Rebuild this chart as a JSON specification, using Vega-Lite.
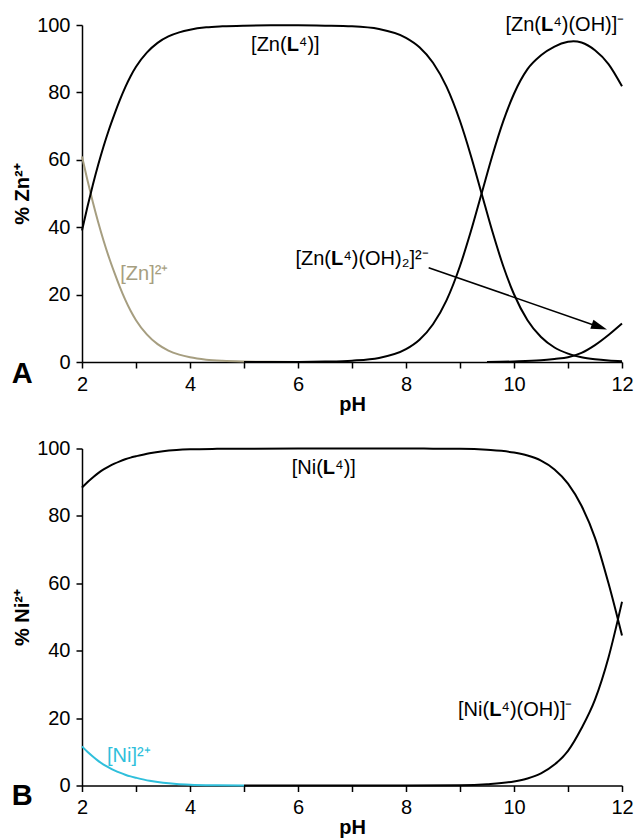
{
  "$schema": "https://vega.github.io/schema/vega-lite/v6.json",
  "padding": {"left": 11, "top": 15, "right": 4, "bottom": 0},
  "background": "white",
  "bounds": "flush",
  "spacing": 86.5,
  "config": {
    "view": {"stroke": null},
    "font": "Liberation Sans",
    "axis": {
      "domainColor": "#000", "domainWidth": 1.5, "tickColor": "#000", "tickWidth": 1.5,
      "tickSize": 6, "labelColor": "#000", "titleColor": "#000",
      "labelFont": "Liberation Sans", "titleFont": "Liberation Sans",
      "labelFontSize": 20, "titleFontSize": 20, "titleFontWeight": "bold",
      "grid": false, "zindex": 1, "labelFlush": false, "labelOverlap": false
    },
    "text": {"font": "Liberation Sans", "fontSize": 20}
  },
  "datasets": {
    "curves": [
      {"panel":"A","species":"Zn","pH":2.0,"pct":61},{"panel":"A","species":"Zn","pH":2.1,"pct":54},{"panel":"A","species":"Zn","pH":2.2,"pct":47.5},{"panel":"A","species":"Zn","pH":2.3,"pct":41.5},{"panel":"A","species":"Zn","pH":2.4,"pct":36},{"panel":"A","species":"Zn","pH":2.5,"pct":31},{"panel":"A","species":"Zn","pH":2.6,"pct":26.5},{"panel":"A","species":"Zn","pH":2.7,"pct":22.3},{"panel":"A","species":"Zn","pH":2.8,"pct":18.5},{"panel":"A","species":"Zn","pH":2.9,"pct":15.2},{"panel":"A","species":"Zn","pH":3.0,"pct":12.4},{"panel":"A","species":"Zn","pH":3.2,"pct":8.2},{"panel":"A","species":"Zn","pH":3.4,"pct":5.3},{"panel":"A","species":"Zn","pH":3.6,"pct":3.4},{"panel":"A","species":"Zn","pH":3.8,"pct":2.2},{"panel":"A","species":"Zn","pH":4.0,"pct":1.4},{"panel":"A","species":"Zn","pH":4.3,"pct":0.7},{"panel":"A","species":"Zn","pH":4.6,"pct":0.35},{"panel":"A","species":"Zn","pH":5.0,"pct":0.14},{"panel":"A","species":"Zn","pH":5.5,"pct":0.05},{"panel":"A","species":"Zn","pH":6.0,"pct":0.02},
      {"panel":"A","species":"ZnL","pH":2.0,"pct":39},{"panel":"A","species":"ZnL","pH":2.1,"pct":46},{"panel":"A","species":"ZnL","pH":2.2,"pct":52.5},{"panel":"A","species":"ZnL","pH":2.3,"pct":58.5},{"panel":"A","species":"ZnL","pH":2.4,"pct":64},{"panel":"A","species":"ZnL","pH":2.5,"pct":69},{"panel":"A","species":"ZnL","pH":2.6,"pct":73.5},{"panel":"A","species":"ZnL","pH":2.7,"pct":77.7},{"panel":"A","species":"ZnL","pH":2.8,"pct":81.5},{"panel":"A","species":"ZnL","pH":2.9,"pct":84.8},{"panel":"A","species":"ZnL","pH":3.0,"pct":87.6},{"panel":"A","species":"ZnL","pH":3.2,"pct":91.8},{"panel":"A","species":"ZnL","pH":3.4,"pct":94.7},{"panel":"A","species":"ZnL","pH":3.6,"pct":96.6},{"panel":"A","species":"ZnL","pH":3.8,"pct":97.8},{"panel":"A","species":"ZnL","pH":4.0,"pct":98.6},{"panel":"A","species":"ZnL","pH":4.3,"pct":99.3},{"panel":"A","species":"ZnL","pH":4.6,"pct":99.6},{"panel":"A","species":"ZnL","pH":5.0,"pct":99.8},{"panel":"A","species":"ZnL","pH":5.5,"pct":99.9},{"panel":"A","species":"ZnL","pH":6.0,"pct":99.9},{"panel":"A","species":"ZnL","pH":6.5,"pct":99.8},{"panel":"A","species":"ZnL","pH":7.0,"pct":99.6},{"panel":"A","species":"ZnL","pH":7.5,"pct":98.8},{"panel":"A","species":"ZnL","pH":8.0,"pct":96.2},{"panel":"A","species":"ZnL","pH":8.25,"pct":93.4},{"panel":"A","species":"ZnL","pH":8.5,"pct":88.8},{"panel":"A","species":"ZnL","pH":8.75,"pct":81.7},{"panel":"A","species":"ZnL","pH":9.0,"pct":71.5},{"panel":"A","species":"ZnL","pH":9.2,"pct":61.3},{"panel":"A","species":"ZnL","pH":9.4,"pct":50},{"panel":"A","species":"ZnL","pH":9.6,"pct":38.7},{"panel":"A","species":"ZnL","pH":9.8,"pct":28.5},{"panel":"A","species":"ZnL","pH":10.0,"pct":20.1},{"panel":"A","species":"ZnL","pH":10.25,"pct":12.4},{"panel":"A","species":"ZnL","pH":10.5,"pct":7.4},{"panel":"A","species":"ZnL","pH":10.75,"pct":4.3},{"panel":"A","species":"ZnL","pH":11.0,"pct":2.5},{"panel":"A","species":"ZnL","pH":11.25,"pct":1.4},{"panel":"A","species":"ZnL","pH":11.5,"pct":0.8},{"panel":"A","species":"ZnL","pH":11.75,"pct":0.45},{"panel":"A","species":"ZnL","pH":12.0,"pct":0.25},
      {"panel":"A","species":"ZnLOH","pH":5.0,"pct":0},{"panel":"A","species":"ZnLOH","pH":6.0,"pct":0.02},{"panel":"A","species":"ZnLOH","pH":6.5,"pct":0.12},{"panel":"A","species":"ZnLOH","pH":7.0,"pct":0.4},{"panel":"A","species":"ZnLOH","pH":7.5,"pct":1.2},{"panel":"A","species":"ZnLOH","pH":8.0,"pct":3.8},{"panel":"A","species":"ZnLOH","pH":8.25,"pct":6.6},{"panel":"A","species":"ZnLOH","pH":8.5,"pct":11.2},{"panel":"A","species":"ZnLOH","pH":8.75,"pct":18.3},{"panel":"A","species":"ZnLOH","pH":9.0,"pct":28.5},{"panel":"A","species":"ZnLOH","pH":9.2,"pct":38.7},{"panel":"A","species":"ZnLOH","pH":9.4,"pct":50},{"panel":"A","species":"ZnLOH","pH":9.6,"pct":61.3},{"panel":"A","species":"ZnLOH","pH":9.8,"pct":71.4},{"panel":"A","species":"ZnLOH","pH":10.0,"pct":79.6},{"panel":"A","species":"ZnLOH","pH":10.25,"pct":86.9},{"panel":"A","species":"ZnLOH","pH":10.5,"pct":91.0},{"panel":"A","species":"ZnLOH","pH":10.75,"pct":93.6},{"panel":"A","species":"ZnLOH","pH":11.0,"pct":95.0},{"panel":"A","species":"ZnLOH","pH":11.1,"pct":95.2},{"panel":"A","species":"ZnLOH","pH":11.25,"pct":94.8},{"panel":"A","species":"ZnLOH","pH":11.5,"pct":92.5},{"panel":"A","species":"ZnLOH","pH":11.75,"pct":88.4},{"panel":"A","species":"ZnLOH","pH":12.0,"pct":81.8},
      {"panel":"A","species":"ZnLOH2","pH":9.5,"pct":0},{"panel":"A","species":"ZnLOH2","pH":10.0,"pct":0.15},{"panel":"A","species":"ZnLOH2","pH":10.5,"pct":0.5},{"panel":"A","species":"ZnLOH2","pH":10.75,"pct":0.9},{"panel":"A","species":"ZnLOH2","pH":11.0,"pct":1.4},{"panel":"A","species":"ZnLOH2","pH":11.25,"pct":2.7},{"panel":"A","species":"ZnLOH2","pH":11.5,"pct":5.0},{"panel":"A","species":"ZnLOH2","pH":11.75,"pct":8.0},{"panel":"A","species":"ZnLOH2","pH":12.0,"pct":11.4},
      {"panel":"B","species":"Ni","pH":2.0,"pct":11.6},{"panel":"B","species":"Ni","pH":2.1,"pct":10.0},{"panel":"B","species":"Ni","pH":2.2,"pct":8.6},{"panel":"B","species":"Ni","pH":2.3,"pct":7.3},{"panel":"B","species":"Ni","pH":2.4,"pct":6.2},{"panel":"B","species":"Ni","pH":2.5,"pct":5.3},{"panel":"B","species":"Ni","pH":2.6,"pct":4.5},{"panel":"B","species":"Ni","pH":2.7,"pct":3.8},{"panel":"B","species":"Ni","pH":2.8,"pct":3.2},{"panel":"B","species":"Ni","pH":2.9,"pct":2.7},{"panel":"B","species":"Ni","pH":3.0,"pct":2.3},{"panel":"B","species":"Ni","pH":3.25,"pct":1.4},{"panel":"B","species":"Ni","pH":3.5,"pct":0.8},{"panel":"B","species":"Ni","pH":3.75,"pct":0.45},{"panel":"B","species":"Ni","pH":4.0,"pct":0.25},{"panel":"B","species":"Ni","pH":4.5,"pct":0.08},{"panel":"B","species":"Ni","pH":5.0,"pct":0.02},
      {"panel":"B","species":"NiL","pH":2.0,"pct":88.4},{"panel":"B","species":"NiL","pH":2.1,"pct":90.0},{"panel":"B","species":"NiL","pH":2.2,"pct":91.4},{"panel":"B","species":"NiL","pH":2.3,"pct":92.7},{"panel":"B","species":"NiL","pH":2.4,"pct":93.8},{"panel":"B","species":"NiL","pH":2.5,"pct":94.7},{"panel":"B","species":"NiL","pH":2.6,"pct":95.5},{"panel":"B","species":"NiL","pH":2.7,"pct":96.2},{"panel":"B","species":"NiL","pH":2.8,"pct":96.8},{"panel":"B","species":"NiL","pH":2.9,"pct":97.3},{"panel":"B","species":"NiL","pH":3.0,"pct":97.7},{"panel":"B","species":"NiL","pH":3.25,"pct":98.6},{"panel":"B","species":"NiL","pH":3.5,"pct":99.2},{"panel":"B","species":"NiL","pH":3.75,"pct":99.55},{"panel":"B","species":"NiL","pH":4.0,"pct":99.75},{"panel":"B","species":"NiL","pH":4.5,"pct":99.9},{"panel":"B","species":"NiL","pH":5.0,"pct":99.95},{"panel":"B","species":"NiL","pH":6.0,"pct":100},{"panel":"B","species":"NiL","pH":7.0,"pct":100},{"panel":"B","species":"NiL","pH":8.0,"pct":100},{"panel":"B","species":"NiL","pH":8.5,"pct":99.95},{"panel":"B","species":"NiL","pH":9.0,"pct":99.9},{"panel":"B","species":"NiL","pH":9.5,"pct":99.6},{"panel":"B","species":"NiL","pH":10.0,"pct":98.8},{"panel":"B","species":"NiL","pH":10.25,"pct":97.9},{"panel":"B","species":"NiL","pH":10.5,"pct":96.4},{"panel":"B","species":"NiL","pH":10.75,"pct":93.8},{"panel":"B","species":"NiL","pH":11.0,"pct":89.6},{"panel":"B","species":"NiL","pH":11.25,"pct":83},{"panel":"B","species":"NiL","pH":11.5,"pct":73.5},{"panel":"B","species":"NiL","pH":11.75,"pct":60},{"panel":"B","species":"NiL","pH":12.0,"pct":44.5},
      {"panel":"B","species":"NiLOH","pH":5.0,"pct":0},{"panel":"B","species":"NiLOH","pH":8.0,"pct":0.01},{"panel":"B","species":"NiLOH","pH":9.0,"pct":0.1},{"panel":"B","species":"NiLOH","pH":9.5,"pct":0.4},{"panel":"B","species":"NiLOH","pH":10.0,"pct":1.2},{"panel":"B","species":"NiLOH","pH":10.25,"pct":2.1},{"panel":"B","species":"NiLOH","pH":10.5,"pct":3.6},{"panel":"B","species":"NiLOH","pH":10.75,"pct":6.2},{"panel":"B","species":"NiLOH","pH":11.0,"pct":10.3},{"panel":"B","species":"NiLOH","pH":11.25,"pct":17},{"panel":"B","species":"NiLOH","pH":11.5,"pct":25.5},{"panel":"B","species":"NiLOH","pH":11.75,"pct":38},{"panel":"B","species":"NiLOH","pH":12.0,"pct":54.5}
    ],
    "labels": [
      {"panel":"A","species":"ZnL","pH":5.79,"pct":92.2,"pre":"[Zn(","b":"L","post":"⁴)]"},
      {"panel":"A","species":"ZnLOH","pH":10.5,"pct":98.1,"pre":"[Zn(","b":"L","post":"⁴)(OH)]⁻"},
      {"panel":"A","species":"ZnLOH2","pH":6.61,"pct":28.9,"pre":"[Zn(","b":"L","post":"⁴)(OH)₂]²⁻"},
      {"panel":"A","species":"Zn","pH":2.483,"pct":24.2,"pre":"","b":"","post":"[Zn]²⁺"},
      {"panel":"B","species":"NiL","pH":6.46,"pct":92.3,"pre":"[Ni(","b":"L","post":"⁴)]"},
      {"panel":"B","species":"NiLOH","pH":9.54,"pct":20.5,"pre":"[Ni(","b":"L","post":"⁴)(OH)]⁻"},
      {"panel":"B","species":"Ni","pH":2.237,"pct":7.1,"pre":"","b":"","post":"[Ni]²⁺"}
    ],
    "letters": [
      {"panel":"A","pH":0.7,"pct":-6.1,"t":"A"},
      {"panel":"B","pH":0.7,"pct":-5.7,"t":"B"}
    ]
  },
  "vconcat": [
    {
      "width": 540, "height": 337,
      "layer": [
        {
          "data": {"name": "curves"},
          "transform": [{"filter": "datum.panel === 'A'"}],
          "mark": {"type": "line", "strokeWidth": 2, "interpolate": "monotone"},
          "encoding": {
            "x": {"field": "pH", "type": "quantitative", "scale": {"domain": [2, 12], "nice": false, "zero": false},
                  "axis": {"title": "pH", "values": [2,3,4,5,6,7,8,9,10,11,12], "labelExpr": "datum.value % 2 === 0 ? datum.label : ''", "labelPadding": 6, "titlePadding": 0}},
            "y": {"field": "pct", "type": "quantitative", "scale": {"domain": [0, 100], "nice": false},
                  "axis": {"title": "% Zn²⁺", "values": [0,10,20,30,40,50,60,70,80,90,100], "labelExpr": "datum.value % 20 === 0 ? datum.label : ''", "labelPadding": 6, "titlePadding": 4}},
            "color": {"field": "species", "type": "nominal", "legend": null,
                      "scale": {"domain": ["Zn","ZnL","ZnLOH","ZnLOH2","Ni","NiL","NiLOH"], "range": ["#a69e80","#000000","#000000","#000000","#2fbfdb","#000000","#000000"]}}
          }
        },
        {
          "data": {"values": [{"pH": 8.42, "pct": 27.95, "pH2": 11.58, "pct2": 10.42}]},
          "mark": {"type": "rule", "strokeWidth": 1.6, "color": "#000"},
          "encoding": {"x": {"field": "pH", "type": "quantitative"}, "y": {"field": "pct", "type": "quantitative"}, "x2": {"field": "pH2"}, "y2": {"field": "pct2"}}
        },
        {
          "data": {"values": [{"pH": 11.722, "pct": 9.64}]},
          "mark": {"type": "point", "shape": "M0,0L-1,-0.3L-1,0.3Z", "size": 1024, "angle": 19.1, "filled": true, "color": "#000", "opacity": 1},
          "encoding": {"x": {"field": "pH", "type": "quantitative"}, "y": {"field": "pct", "type": "quantitative"}}
        },
        {
          "data": {"name": "labels"},
          "transform": [{"filter": "datum.panel === 'A'"}],
          "mark": {"type": "text", "align": "right", "baseline": "alphabetic", "fontSize": 20},
          "encoding": {"x": {"field": "pH", "type": "quantitative"}, "y": {"field": "pct", "type": "quantitative"}, "text": {"field": "pre"}, "color": {"field": "species", "type": "nominal", "legend": null}}
        },
        {
          "data": {"name": "labels"},
          "transform": [{"filter": "datum.panel === 'A'"}],
          "mark": {"type": "text", "align": "left", "baseline": "alphabetic", "fontSize": 20, "fontWeight": "bold"},
          "encoding": {"x": {"field": "pH", "type": "quantitative"}, "y": {"field": "pct", "type": "quantitative"}, "text": {"field": "b"}, "color": {"field": "species", "type": "nominal", "legend": null}}
        },
        {
          "data": {"name": "labels"},
          "transform": [{"filter": "datum.panel === 'A'"}],
          "mark": {"type": "text", "align": "left", "baseline": "alphabetic", "fontSize": 20, "dx": 12.2},
          "encoding": {"x": {"field": "pH", "type": "quantitative"}, "y": {"field": "pct", "type": "quantitative"}, "text": {"field": "post"}, "color": {"field": "species", "type": "nominal", "legend": null}}
        },
        {
          "data": {"name": "letters"},
          "transform": [{"filter": "datum.panel === 'A'"}],
          "mark": {"type": "text", "align": "left", "baseline": "alphabetic", "fontSize": 29, "fontWeight": "bold", "color": "#000"},
          "encoding": {"x": {"field": "pH", "type": "quantitative"}, "y": {"field": "pct", "type": "quantitative"}, "text": {"field": "t"}}
        }
      ]
    },
    {
      "width": 540, "height": 337,
      "layer": [
        {
          "data": {"name": "curves"},
          "transform": [{"filter": "datum.panel === 'B'"}],
          "mark": {"type": "line", "strokeWidth": 2, "interpolate": "monotone"},
          "encoding": {
            "x": {"field": "pH", "type": "quantitative", "scale": {"domain": [2, 12], "nice": false, "zero": false},
                  "axis": {"title": "pH", "values": [2,3,4,5,6,7,8,9,10,11,12], "labelExpr": "datum.value % 2 === 0 ? datum.label : ''", "labelPadding": 6, "titlePadding": 0}},
            "y": {"field": "pct", "type": "quantitative", "scale": {"domain": [0, 100], "nice": false},
                  "axis": {"title": "% Ni²⁺", "values": [0,10,20,30,40,50,60,70,80,90,100], "labelExpr": "datum.value % 20 === 0 ? datum.label : ''", "labelPadding": 6, "titlePadding": 4}},
            "color": {"field": "species", "type": "nominal", "legend": null,
                      "scale": {"domain": ["Zn","ZnL","ZnLOH","ZnLOH2","Ni","NiL","NiLOH"], "range": ["#a69e80","#000000","#000000","#000000","#2fbfdb","#000000","#000000"]}}
          }
        },
        {
          "data": {"name": "labels"},
          "transform": [{"filter": "datum.panel === 'B'"}],
          "mark": {"type": "text", "align": "right", "baseline": "alphabetic", "fontSize": 20},
          "encoding": {"x": {"field": "pH", "type": "quantitative"}, "y": {"field": "pct", "type": "quantitative"}, "text": {"field": "pre"}, "color": {"field": "species", "type": "nominal", "legend": null}}
        },
        {
          "data": {"name": "labels"},
          "transform": [{"filter": "datum.panel === 'B'"}],
          "mark": {"type": "text", "align": "left", "baseline": "alphabetic", "fontSize": 20, "fontWeight": "bold"},
          "encoding": {"x": {"field": "pH", "type": "quantitative"}, "y": {"field": "pct", "type": "quantitative"}, "text": {"field": "b"}, "color": {"field": "species", "type": "nominal", "legend": null}}
        },
        {
          "data": {"name": "labels"},
          "transform": [{"filter": "datum.panel === 'B'"}],
          "mark": {"type": "text", "align": "left", "baseline": "alphabetic", "fontSize": 20, "dx": 12.2},
          "encoding": {"x": {"field": "pH", "type": "quantitative"}, "y": {"field": "pct", "type": "quantitative"}, "text": {"field": "post"}, "color": {"field": "species", "type": "nominal", "legend": null}}
        },
        {
          "data": {"name": "letters"},
          "transform": [{"filter": "datum.panel === 'B'"}],
          "mark": {"type": "text", "align": "left", "baseline": "alphabetic", "fontSize": 29, "fontWeight": "bold", "color": "#000"},
          "encoding": {"x": {"field": "pH", "type": "quantitative"}, "y": {"field": "pct", "type": "quantitative"}, "text": {"field": "t"}}
        }
      ]
    }
  ]
}
